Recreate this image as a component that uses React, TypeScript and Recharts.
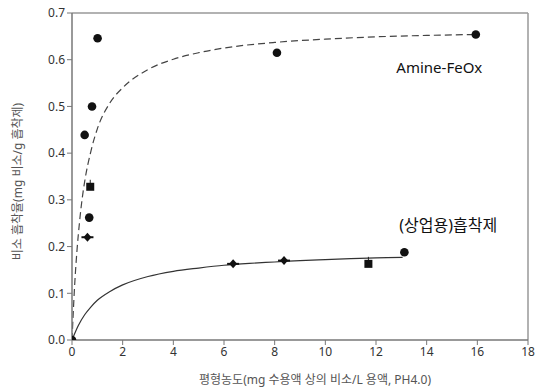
import * as React from 'react';
import {
  ComposedChart, Line, Scatter, XAxis, YAxis, ReferenceLine, ReferenceDot, Label,
} from 'recharts';

// measured points (x: equilibrium conc., y: uptake, m: marker style)
const amineX = [0, 0.5, 0.79, 1.01, 0.72, 0.68, 0.61, 8.09, 15.94];
const amineY = [0, 0.439, 0.5, 0.646, 0.328, 0.262, 0.22, 0.615, 0.654];
const amineM = ['o', 'o', 'o', 'o', 's', 'o', '+', 'o', 'o'];

const commX = [6.36, 8.37, 11.7, 13.12];
const commY = [0.163, 0.17, 0.163, 0.188];
const commM = ['+', '+', 's', 'o'];

// fitted curves
const amineFitX = [0, 0.1, 0.2, 0.3, 0.4, 0.5, 0.75, 1, 1.5, 2, 3, 4, 5, 6, 8, 10, 12, 14, 15.94];
const amineFitY = [0, 0.113, 0.194, 0.254, 0.302, 0.339, 0.405, 0.452, 0.508, 0.54, 0.579, 0.601, 0.615, 0.625, 0.637, 0.644, 0.649, 0.652, 0.654];

const commFitX = [0, 0.25, 0.5, 0.75, 1, 1.5, 2, 3, 4, 5, 6, 7, 8, 9, 10, 11, 12, 13.05];
const commFitY = [0, 0.031, 0.054, 0.071, 0.085, 0.104, 0.118, 0.136, 0.147, 0.154, 0.16, 0.164, 0.167, 0.17, 0.172, 0.174, 0.176, 0.177];

const xTicks = [0, 2, 4, 6, 8, 10, 12, 14, 16, 18];
const yTicks = [0, 0.1, 0.2, 0.3, 0.4, 0.5, 0.6, 0.7];

const xTitle = '평형농도(mg 수용액 상의 비소/L 용액, PH4.0)';
const yTitle = '비소 흡착율(mg 비소/g 흡착제)';

const zip = (xs: number[], ys: number[], ms?: string[]) =>
  xs.map((x, i) => ({ x, y: ys[i], m: ms ? ms[i] : 'o' }));

const amineFit = zip(amineFitX, amineFitY);
const commFit = zip(commFitX, commFitY);
const points = [...zip(amineX, amineY, amineM), ...zip(commX, commY, commM)];

const FONT = "'Noto Sans', 'Noto Sans CJK KR', sans-serif";

function Marker(props: any) {
  const { cx, cy, payload } = props;
  if (cx == null || cy == null) return null;
  if (payload.m === 's') {
    return (
      <g>
        <line x1={cx} y1={cy - 7} x2={cx} y2={cy} stroke="#222" strokeWidth={1} />
        <rect x={cx - 4} y={cy - 4} width={8} height={8} fill="#111" />
      </g>
    );
  }
  if (payload.m === '+') {
    return (
      <g>
        <line x1={cx - 6} y1={cy} x2={cx + 6} y2={cy} stroke="#111" strokeWidth={2} />
        <path d={`M${cx},${cy - 4.5} L${cx + 4},${cy} L${cx},${cy + 4.5} L${cx - 4},${cy} Z`} fill="#111" />
      </g>
    );
  }
  return <circle cx={cx} cy={cy} r={4.3} fill="#111" />;
}

function YTitle(props: any) {
  const vb = props.viewBox || {};
  const cx = 17;
  const cy = (vb.y ?? 13) + (vb.height ?? 327) / 2 + 5;
  return (
    <text
      x={cx}
      y={cy}
      transform={`rotate(-90, ${cx}, ${cy})`}
      textAnchor="middle"
      dominantBaseline="central"
      fill="#555"
      fontSize={12}
      fontFamily={FONT}
    >
      {yTitle}
    </text>
  );
}

export default function App() {
  return (
    <div style={{ position: 'absolute', left: 0, top: 0, width: 535, height: 392, background: '#fff' }}>
      <ComposedChart
        width={535}
        height={392}
        margin={{ top: 13, right: 7, bottom: 0, left: 0 }}
        style={{ fontFamily: FONT }}
      >
        <XAxis
          type="number"
          dataKey="x"
          domain={[0, 18]}
          ticks={xTicks}
          interval={0}
          height={52}
          tick={{ fill: '#333', fontSize: 12 }}
          tickSize={5}
          tickLine={{ stroke: '#777' }}
          axisLine={{ stroke: '#777', strokeWidth: 1.5 }}
          allowDataOverflow
        >
          <Label value={xTitle} position="insideBottom" offset={8} dx={15} fill="#555" fontSize={12} />
        </XAxis>
        <YAxis
          type="number"
          dataKey="y"
          domain={[0, 0.7]}
          ticks={yTicks}
          interval={0}
          width={72}
          tickFormatter={(v: number) => v.toFixed(1)}
          tick={{ fill: '#333', fontSize: 12 }}
          tickSize={5}
          tickLine={{ stroke: '#777' }}
          axisLine={{ stroke: '#777', strokeWidth: 1.5 }}
          allowDataOverflow
        >
          <Label content={<YTitle />} />
        </YAxis>
        <ReferenceLine y={0.7} stroke="#999" strokeWidth={1.5} />
        <ReferenceLine x={18} stroke="#999" strokeWidth={1.5} />
        <Line
          data={amineFit}
          dataKey="y"
          type="monotone"
          stroke="#444"
          strokeWidth={1.2}
          strokeDasharray="7 4"
          dot={false}
          activeDot={false}
          isAnimationActive={false}
        />
        <Line
          data={commFit}
          dataKey="y"
          type="monotone"
          stroke="#333"
          strokeWidth={1.2}
          dot={false}
          activeDot={false}
          isAnimationActive={false}
        />
        <Scatter data={points} dataKey="y" shape={<Marker />} isAnimationActive={false} />
        <ReferenceDot x={14.5} y={0.582} r={0} label={{ value: 'Amine-FeOx', fill: '#111', fontSize: 15, position: 'center' }} />
        <ReferenceDot x={14.85} y={0.246} r={0} label={{ value: '(상업용)흡착제', fill: '#111', fontSize: 16, position: 'center' }} />
      </ComposedChart>
    </div>
  );
}
